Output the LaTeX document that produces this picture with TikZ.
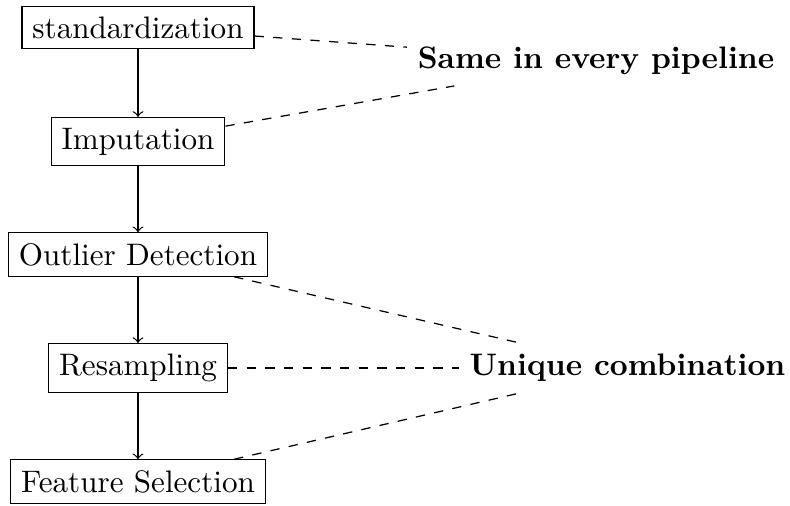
\documentclass[tikz,border=0pt]{standalone}
\begin{document}
\begin{tikzpicture}[
  x=0.32154pt, y=-0.32154pt,
  stage/.style={draw, inner sep=3.33pt},
  note/.style={font=\bfseries, inner sep=3.33pt},
  flow/.style={->},
  link/.style={dashed}
]
\useasboundingbox (0,0) rectangle (790,505);

% pipeline stages
\node[stage] (std) at (138,27.5)  {standardization};
\node[stage] (imp) at (138,141.5) {Imputation};
\node[stage] (out) at (138,254.5) {Outlier Detection};
\node[stage] (res) at (138,368)   {Resampling};
\node[stage] (fs)  at (138,481.5) {Feature Selection};

% annotations
\node[note] (same) at (596,61)    {Same in every pipeline};
\node[note] (uniq) at (627.5,368) {Unique combination};

% flow between stages
\draw[flow] (std) -- (imp);
\draw[flow] (imp) -- (out);
\draw[flow] (out) -- (res);
\draw[flow] (res) -- (fs);

% links to annotations
\draw[link] (std) -- (same);
\draw[link] (imp) -- (same);
\draw[link] (out) -- (uniq);
\draw[link] (res) -- (uniq);
\draw[link] (fs)  -- (uniq);
\end{tikzpicture}
\end{document}
